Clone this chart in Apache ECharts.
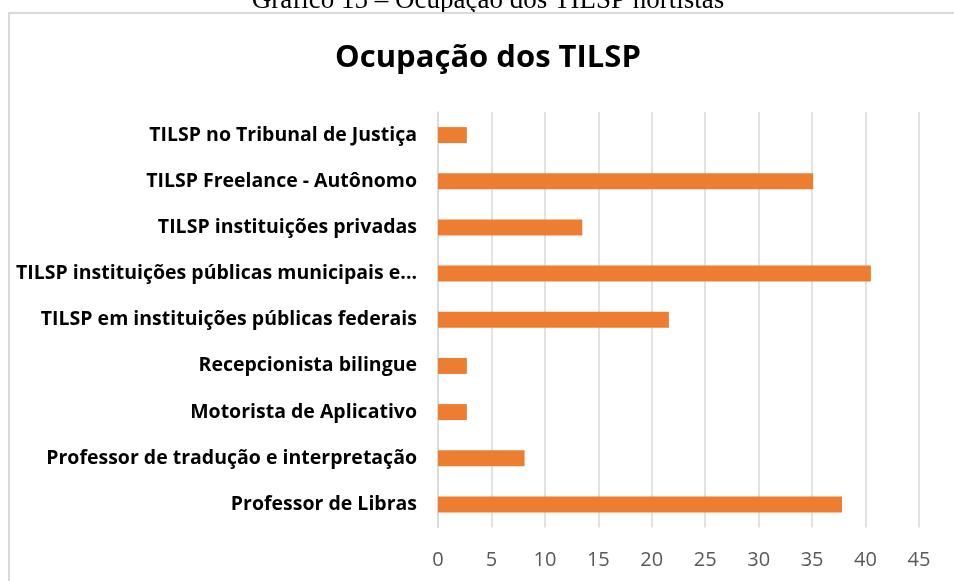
<!DOCTYPE html>
<html>
<head>
<meta charset="utf-8">
<script src="https://cdn.jsdelivr.net/npm/echarts@6/dist/echarts.min.js"></script>
<style>
html,body{margin:0;padding:0;background:#fff;}
#chart{width:954px;height:581px;}
</style>
</head>
<body>
<div id="chart"></div>
<script>
// Data (top to bottom as displayed)
const categories = [
  'TILSP no Tribunal de Justiça',
  'TILSP Freelance - Autônomo',
  'TILSP instituições privadas',
  'TILSP instituições públicas municipais e...',
  'TILSP em instituições públicas federais',
  'Recepcionista bilingue',
  'Motorista de Aplicativo',
  'Professor de tradução e interpretação',
  'Professor de Libras'
];
const values = [2.7, 35.1, 13.5, 40.5, 21.6, 2.7, 2.7, 8.1, 37.8];
const xTicks = { min: 0, max: 45, interval: 5 };
const chartTitle = 'Ocupação dos TILSP';
const caption = 'Gráfico 15 – Ocupação dos TILSP nortistas';

const chart = echarts.init(document.getElementById('chart'), null, {renderer: 'canvas'});
chart.setOption({
  animation: false,
  backgroundColor: '#ffffff',
  grid: { left: 438, right: 35, top: 112, bottom: 53.5, containLabel: false },
  graphic: [
    { type: 'text', z: 1, x: 488, y: 14, style: { text: caption, font: '27px "Liberation Serif"', fill: '#000',
      align: 'center', verticalAlign: 'bottom' } },
    { type: 'rect', z: 2, shape: { x: 9, y: 13, width: 980, height: 620 },
      style: { fill: 'none', stroke: '#d9d9d9', lineWidth: 2 } },
    { type: 'text', z: 3, x: 488, y: 58, style: { text: chartTitle, font: 'bold 31px "Open Sans"', fill: '#000',
      align: 'center', verticalAlign: 'middle' } }
  ],
  xAxis: {
    type: 'value', min: xTicks.min, max: xTicks.max, interval: xTicks.interval,
    axisLine: { show: false }, axisTick: { show: false },
    splitLine: { show: true, lineStyle: { color: '#d9d9d9', width: 1.5 } },
    axisLabel: { color: '#595959', fontFamily: 'Open Sans', fontSize: 20, margin: 23 }
  },
  yAxis: {
    type: 'category', data: categories, inverse: true,
    axisLine: { show: true, lineStyle: { color: '#d9d9d9', width: 1.5 } },
    axisTick: { show: false },
    axisLabel: { color: '#000', fontFamily: 'Open Sans', fontWeight: 'bold', fontSize: 19.5, margin: 21 }
  },
  series: [{
    type: 'bar', data: values, barWidth: 16,
    itemStyle: { color: '#ed7d31' }
  }]
});
</script>
</body>
</html>
